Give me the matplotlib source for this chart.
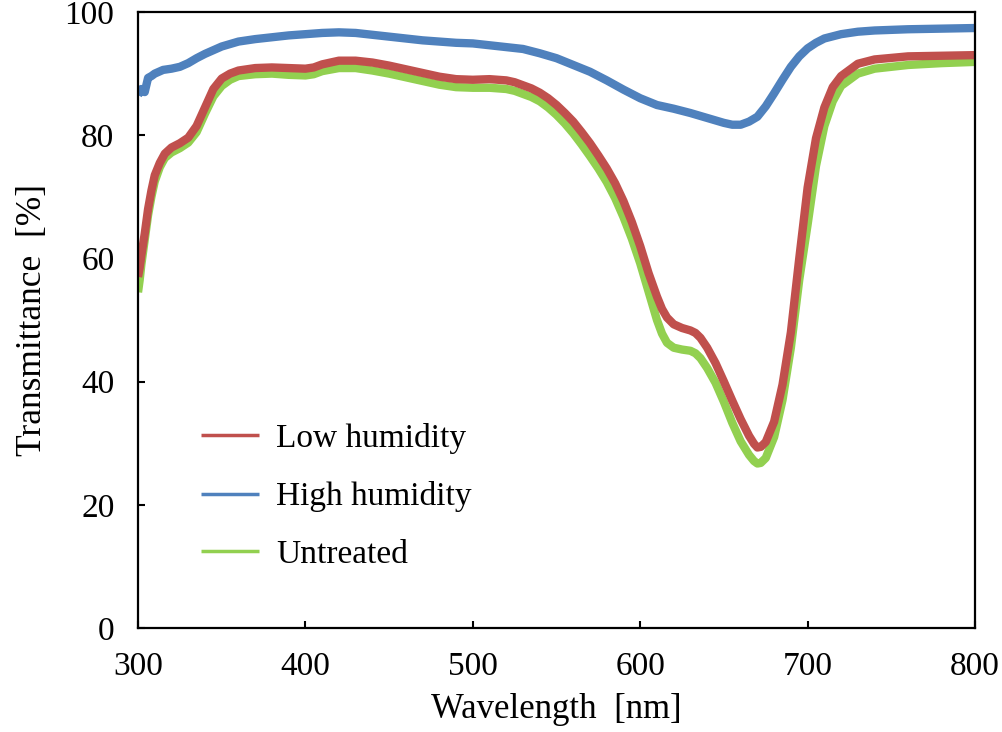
import matplotlib
matplotlib.use('Agg')
import matplotlib.pyplot as plt

# wavelength [nm] / transmittance [%]
wl_high = [300, 302, 304, 306, 308, 310, 315, 320, 325, 330, 335, 340, 345, 350,
           355, 360, 370, 380, 390, 400, 410, 420, 430, 440, 450, 460, 470, 480,
           490, 500, 510, 520, 530, 540, 550, 560, 570, 580, 590, 600, 610, 620,
           630, 640, 650, 655, 660, 665, 670, 675, 680, 685, 690, 695, 700, 705,
           710, 720, 730, 740, 760, 780, 800]
t_high = [86.5, 87.5, 87.0, 89.3, 89.6, 90.0, 90.6, 90.8, 91.1, 91.7, 92.5, 93.2,
          93.8, 94.4, 94.8, 95.2, 95.6, 95.9, 96.2, 96.4, 96.6, 96.7, 96.6, 96.3,
          96.0, 95.7, 95.4, 95.2, 95.0, 94.9, 94.6, 94.3, 94.0, 93.3, 92.5, 91.4,
          90.3, 88.9, 87.4, 86.0, 84.9, 84.3, 83.6, 82.8, 82.0, 81.7, 81.7, 82.2,
          83.0, 84.7, 86.8, 89.0, 91.1, 92.8, 94.1, 95.0, 95.7, 96.4, 96.8, 97.0,
          97.2, 97.3, 97.4]

wl_low = [300, 301, 302, 304, 306, 308, 310, 313, 316, 320, 325, 330, 335, 340,
          345, 350, 355, 360, 370, 380, 390, 400, 405, 410, 420, 430, 440, 450,
          460, 470, 480, 490, 500, 510, 520, 525, 530, 535, 540, 545, 550, 555,
          560, 565, 570, 575, 580, 585, 590, 595, 600, 605, 610, 613, 616, 620,
          625, 630, 633, 636, 640, 645, 650, 655, 660, 665, 668, 670, 672, 675,
          680, 685, 690, 695, 700, 705, 710, 715, 720, 730, 740, 760, 780, 800]
t_low = [57.0, 58.5, 60.5, 64.0, 68.0, 71.0, 73.5, 75.5, 77.0, 78.0, 78.7, 79.6,
         81.5, 84.5, 87.5, 89.2, 90.0, 90.5, 90.9, 91.0, 90.9, 90.8, 91.0, 91.5,
         92.1, 92.1, 91.8, 91.3, 90.7, 90.1, 89.5, 89.1, 89.0, 89.1, 88.9, 88.6,
         88.1, 87.6, 86.9, 86.0, 84.9, 83.6, 82.2, 80.5, 78.7, 76.7, 74.6, 72.2,
         69.3, 65.9, 62.0, 57.6, 53.8, 51.8, 50.4, 49.3, 48.7, 48.3, 47.9, 47.1,
         45.5, 43.0, 40.0, 36.9, 33.9, 31.2, 29.9, 29.3, 29.4, 30.2, 33.5, 39.5,
         48.0, 60.0, 71.5, 79.5, 84.5, 87.8, 89.6, 91.6, 92.3, 92.8, 92.9, 93.0]

wl_untreated = wl_low
t_untreated = [54.5, 56.5, 59.0, 63.0, 67.0, 70.0, 72.5, 74.8, 76.3, 77.2, 77.9,
               78.8, 80.5, 83.5, 86.3, 88.0, 89.0, 89.6, 89.9, 90.0, 89.8, 89.7,
               89.9, 90.4, 90.9, 90.9, 90.5, 90.0, 89.4, 88.8, 88.2, 87.8, 87.7,
               87.7, 87.5, 87.2, 86.7, 86.2, 85.5, 84.5, 83.3, 81.9, 80.3, 78.5,
               76.6, 74.6, 72.4, 69.8, 66.7, 63.2, 59.2, 54.6, 50.0, 47.8, 46.3,
               45.5, 45.2, 45.0, 44.6, 43.8, 42.2, 39.8, 36.7, 33.3, 30.3, 28.1,
               27.1, 26.7, 26.8, 27.6, 31.0, 37.0, 45.5, 56.5, 65.5, 75.0, 81.5,
               85.5, 88.0, 90.0, 90.8, 91.4, 91.7, 91.9]

x_ticks = [300, 400, 500, 600, 700, 800]
y_ticks = [0, 20, 40, 60, 80, 100]

plt.rcParams['font.family'] = ['Liberation Serif', 'DejaVu Serif']
plt.rcParams['font.size'] = 24

fig = plt.figure(figsize=(10.03, 7.32), dpi=100)
ax = fig.add_axes([0.1376, 0.1421, 0.8345, 0.8415])

style = dict(lw=6, solid_joinstyle='round', solid_capstyle='butt')
l_un, = ax.plot(wl_untreated, t_untreated, color='#92D050', **style)
l_low, = ax.plot(wl_low, t_low, color='#C0504D', **style)
l_high, = ax.plot(wl_high, t_high, color='#4F81BD', **style)

ax.set_xlim(300, 800)
ax.set_ylim(0, 100)
ax.set_xticks(x_ticks)
ax.set_yticks(y_ticks)
ax.tick_params(direction='in', length=5, width=1.5, pad=17,
               top=False, right=False)
for s in ax.spines.values():
    s.set_linewidth(1.6)

ax.set_xlabel('Wavelength  [nm]', fontsize=25, labelpad=8)
ax.set_ylabel('Transmittance  [%]', fontsize=25.5, labelpad=11)

leg = ax.legend([l_low, l_high, l_un], ['Low humidity', 'High humidity', 'Untreated'],
                loc='upper left', bbox_to_anchor=(0.075, 0.333), frameon=False,
                borderpad=0, borderaxespad=0, handlelength=1.75,
                handletextpad=0.5, labelspacing=0.82)
for l in leg.get_lines():
    l.set_linewidth(2.5)

fig.savefig('out.png', dpi=100)
